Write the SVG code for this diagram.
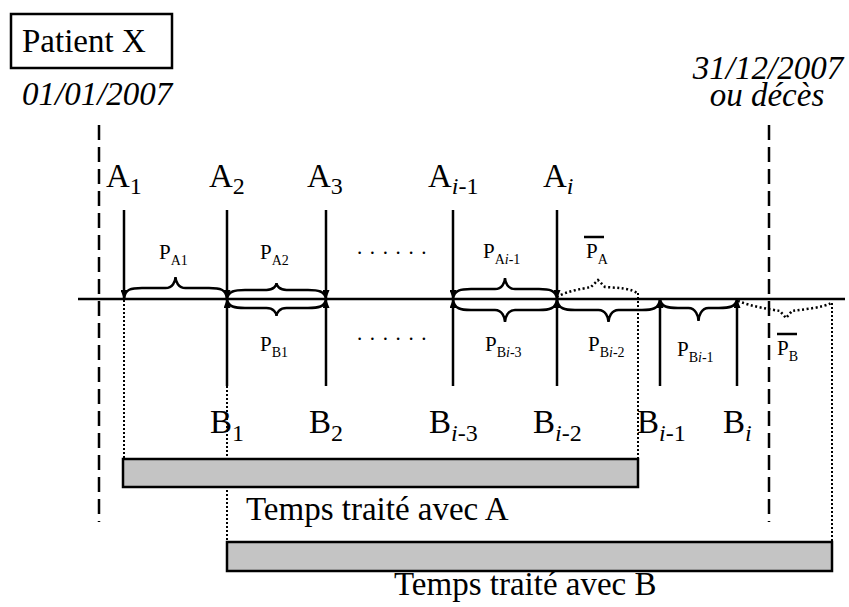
<svg xmlns="http://www.w3.org/2000/svg" width="849" height="607" viewBox="0 0 849 607">
<style>
text { font-family: "Liberation Serif", "DejaVu Serif", serif; fill: #000; }
.big { font-size: 33px; }
.it { font-style: italic; }
.sub { font-size: 24px; }
.p { font-size: 21px; }
.ps { font-size: 14px; }
.axis { stroke: #000; stroke-width: 2.5; fill: none; }
.arrow { stroke: #000; stroke-width: 2.5; fill: none; marker-end: url(#ah); }
.brace { stroke: #000; stroke-width: 2.5; fill: none; }
.brace-dot { stroke: #000; stroke-width: 2.5; fill: none; stroke-dasharray: 2 2.5; }
.vdot { stroke: #000; stroke-width: 2; fill: none; stroke-dasharray: 2 2; }
.vdash { stroke: #000; stroke-width: 2.5; fill: none; stroke-dasharray: 15 7; }
.bar { fill: #c4c4c4; stroke: #000; stroke-width: 2.5; }
.ov { stroke: #000; stroke-width: 2.5; }
</style>
<defs>
<marker id="ah" viewBox="0 0 9 7" refX="9" refY="3.5" markerWidth="9" markerHeight="7" markerUnits="userSpaceOnUse" orient="auto">
<path d="M0,0 L9,3.5 L0,7 z" fill="#000"/>
</marker>
</defs>

<g font-family="Liberation Serif, DejaVu Serif, serif">
<g id="patient">
<rect x="11" y="14" width="161" height="54" fill="none" stroke="#000" stroke-width="2.5"/>
<text class="big" x="22" y="52">Patient X</text>
</g>
<g id="date-start"><text class="big it" x="22" y="105">01/01/2007</text></g>
<g id="date-end">
<text class="big it" x="768" y="79" text-anchor="middle">31/12/2007</text>
<text class="big it" x="767" y="106" text-anchor="middle">ou décès</text>
</g>

<g id="connectors">
<line class="vdash" x1="99" y1="125" x2="99" y2="522"/>
<line class="vdash" x1="769" y1="125" x2="769" y2="522"/>
<line class="axis" x1="78" y1="299" x2="845" y2="299"/>
<line class="arrow" x1="124" y1="210" x2="124" y2="299"/>
<line class="arrow" x1="227" y1="210" x2="227" y2="299"/>
<line class="arrow" x1="326" y1="210" x2="326" y2="299"/>
<line class="arrow" x1="453" y1="210" x2="453" y2="299"/>
<line class="arrow" x1="557" y1="210" x2="557" y2="299"/>
<line class="arrow" x1="227" y1="386" x2="227" y2="299"/>
<line class="arrow" x1="326" y1="386" x2="326" y2="299"/>
<line class="arrow" x1="453" y1="386" x2="453" y2="299"/>
<line class="arrow" x1="557" y1="386" x2="557" y2="299"/>
<line class="arrow" x1="660" y1="386" x2="660" y2="299"/>
<line class="arrow" x1="737" y1="386" x2="737" y2="299"/>
<line class="vdot" x1="124" y1="300" x2="124" y2="459"/>
<line class="vdot" x1="227" y1="386" x2="227" y2="542"/>
<line class="vdot" x1="638" y1="293" x2="638" y2="459"/>
<line class="vdot" x1="832" y1="303" x2="832" y2="542"/>
</g>

<g id="braces">
<path class="brace" d="M124,299 C125,289 131,288 142,288 L165.5,288 C172.5,288 175.5,281.4 175.5,277 C175.5,281.4 178.5,288 185.5,288 L209,288 C220,288 226,289 227,299"/>
<path class="brace" d="M227,299 C228,291 235,290 245,290 L266.5,290 C273.5,290 276.5,285.8 276.5,283 C276.5,285.8 279.5,290 286.5,290 L308,290 C318,290 325,291 326,299"/>
<path class="brace" d="M227,299 C228,307 235,308 245,308 L266.5,308 C273.5,308 276.5,312.8 276.5,316 C276.5,312.8 279.5,308 286.5,308 L308,308 C318,308 325,307 326,299"/>
<path class="brace" d="M453,299 C454,290 461,289 471,289 L495,289 C502,289 505,282.4 505,278 C505,282.4 508,289 515,289 L539,289 C549,289 556,290 557,299"/>
<path class="brace" d="M453,299 C454,309 461,310 471,310 L495,310 C502,310 505,317.2 505,322 C505,317.2 508,310 515,310 L539,310 C549,310 556,309 557,299"/>
<path class="brace-dot" d="M557,297 C566,291 582,289 591,287 L598,280 L605,287 C618,288 632,288 638,294"/>
<path class="brace" d="M557,299 C558,309 565,310 575,310 L598.5,310 C605.5,310 608.5,317.2 608.5,322 C608.5,317.2 611.5,310 618.5,310 L642,310 C652,310 659,309 660,299"/>
<path class="brace" d="M660,299 C661,307 668,308 678,308 L688.5,308 C695.5,308 698.5,315.8 698.5,321 C698.5,315.8 701.5,308 708.5,308 L719,308 C729,308 736,307 737,299"/>
<path class="brace-dot" d="M738,301 C750,306 768,309 780,311 L786,318 L792,311 C805,309 822,308 831,303"/>
</g>

<g id="labels-A">
<text class="big" x="106" y="187">A<tspan class="sub" dy="7">1</tspan></text>
<text class="big" x="209" y="187">A<tspan class="sub" dy="7">2</tspan></text>
<text class="big" x="307" y="187">A<tspan class="sub" dy="7">3</tspan></text>
<text class="big" x="428" y="187">A<tspan class="sub" dy="7"><tspan class="it">i</tspan>-1</tspan></text>
<text class="big" x="543" y="187">A<tspan class="sub it" dy="7">i</tspan></text>
</g>
<g id="labels-B">
<text class="big" x="210" y="433">B<tspan class="sub" dy="8">1</tspan></text>
<text class="big" x="309" y="433">B<tspan class="sub" dy="8">2</tspan></text>
<text class="big" x="429" y="433">B<tspan class="sub" dy="8"><tspan class="it">i</tspan>-3</tspan></text>
<text class="big" x="533" y="433">B<tspan class="sub" dy="8"><tspan class="it">i</tspan>-2</tspan></text>
<text class="big" x="637" y="433">B<tspan class="sub" dy="8"><tspan class="it">i</tspan>-1</tspan></text>
<text class="big" x="723" y="433">B<tspan class="sub it" dy="8">i</tspan></text>
</g>
<g id="labels-P">
<text class="p" x="159" y="259">P<tspan class="ps" dy="6">A1</tspan></text>
<text class="p" x="260" y="259">P<tspan class="ps" dy="6">A2</tspan></text>
<text class="p" x="357" y="254" letter-spacing="7.6">......</text>
<text class="p" x="483" y="258">P<tspan class="ps" dy="6">A<tspan class="it">i</tspan>-1</tspan></text>
<text class="p" x="586" y="258">P<tspan class="ps" dy="6">A</tspan></text>
<line class="ov" x1="584" y1="237" x2="604" y2="237"/>
<text class="p" x="260" y="351">P<tspan class="ps" dy="6">B1</tspan></text>
<text class="p" x="357" y="340" letter-spacing="7.6">......</text>
<text class="p" x="485" y="351">P<tspan class="ps" dy="6">B<tspan class="it">i</tspan>-3</tspan></text>
<text class="p" x="588" y="351">P<tspan class="ps" dy="6">B<tspan class="it">i</tspan>-2</tspan></text>
<text class="p" x="677" y="356">P<tspan class="ps" dy="6">B<tspan class="it">i</tspan>-1</tspan></text>
<text class="p" x="777" y="355">P<tspan class="ps" dy="6">B</tspan></text>
<line class="ov" x1="777" y1="334" x2="797" y2="334"/>
</g>

<g id="bar-A">
<rect class="bar" x="123" y="459" width="515" height="28"/>
<text class="big" x="246" y="520">Temps traité avec A</text>
</g>
<g id="bar-B">
<rect class="bar" x="227" y="542" width="605" height="29"/>
<text class="big" x="394" y="595">Temps traité avec B</text>
</g>
</g>
</svg>
